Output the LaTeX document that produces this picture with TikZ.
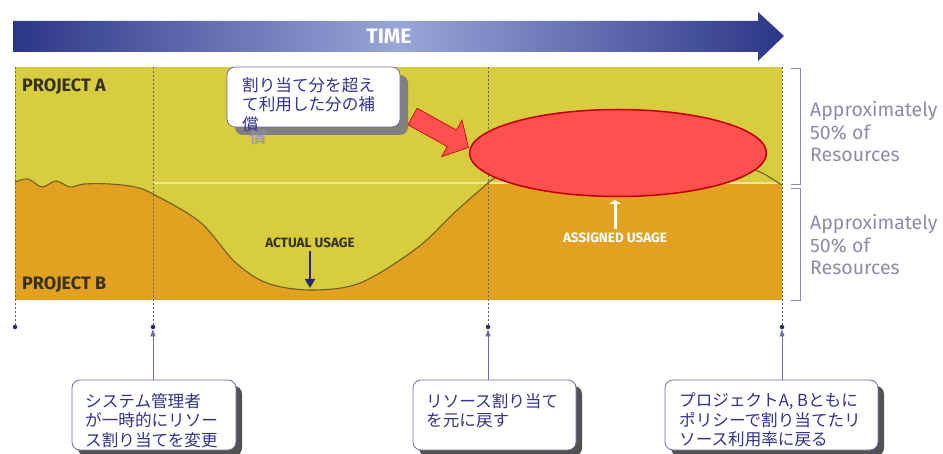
\documentclass[tikz,border=0pt]{standalone}
\usepackage{fontspec}
\setmainfont{Fira Sans}
\newfontfamily\jpfont{Noto Sans CJK JP}
\usetikzlibrary{shapes.geometric,arrows.meta,shadows}
\definecolor{chartY}{HTML}{D8CD3E}
\definecolor{chartO}{HTML}{E3A122}
\definecolor{curveC}{HTML}{6E6024}
\definecolor{paleL}{HTML}{EEE59A}
\definecolor{dotC}{HTML}{666666}
\definecolor{brkC}{HTML}{8A8AB0}
\definecolor{apprC}{HTML}{8C8CA8}
\definecolor{boxL}{HTML}{6A6AB0}
\definecolor{jpC}{HTML}{33338A}
\definecolor{jpFaint}{HTML}{8E8EC2}
\definecolor{timeD}{HTML}{2C3688}
\definecolor{timeL}{HTML}{98A6D8}
\definecolor{redF}{HTML}{FF5050}
\definecolor{redD}{HTML}{C00000}
\definecolor{navyA}{HTML}{2A2A6A}
\definecolor{ptrC}{HTML}{6E6EA8}
\definecolor{projC}{HTML}{36311F}
\newcommand\usagecurve{plot[smooth, tension=0.55] coordinates {(15,182) (28,179) (42,187) (56,181) (70,187) (84,184) (110,184) (135,187) (153,194) (200,222) (235,262) (267,283) (310,290) (360,283) (417,248) (455,212) (488,183)}}
\begin{document}
\begin{tikzpicture}[x=1pt,y=-1pt,
  dotline/.style={dotC, line width=0.8pt, dash pattern=on 2pt off 2pt},
  enddot/.style={circle, fill=navyA, inner sep=0pt, minimum size=4.5pt},
  calloutbox/.style={draw=boxL, fill=white, line width=0.8pt, rounded corners=8pt, inner sep=0pt},
  lowshadow/.style={copy shadow={shadow xshift=6pt, shadow yshift=-6pt, fill=black!68, draw=none}},
  topshadow/.style={copy shadow={shadow xshift=8pt, shadow yshift=-8pt, fill=black!50, draw=none}},
  jptext/.style={anchor=north west, inner sep=0pt, align=left, text=jpC, font=\jpfont\fontsize{16.6}{19.5}\selectfont},
  ptr/.style={ptrC, line width=0.8pt, -{Triangle[length=7pt,width=5pt]}},
  apprtext/.style={anchor=north west, inner sep=0pt, align=left, text=apprC, font=\fontsize{19.5}{22.5}\selectfont},
  projtext/.style={anchor=west, inner sep=0pt, text=projC, font=\bfseries\fontsize{18}{20}\selectfont},
  usagetext/.style={inner sep=0pt, font=\bfseries\fontsize{13.5}{15}\selectfont},
]
\useasboundingbox (0,0) rectangle (943,454);
% time arrow
\shade[left color=timeD, right color=timeD, middle color=timeL]
  (13,21) -- (758,21) -- (758,12) -- (784,36) -- (758,61) -- (758,52) -- (13,52) -- cycle;
\node[text=white, font=\bfseries\fontsize{21}{22}\selectfont] (time) at (389,36) {TIME};
% chart background
\fill[chartY] (15,67) rectangle (782,300);
\fill[chartO] \usagecurve -- (782,183) -- (782,300) -- (15,300) -- cycle;
\draw[paleL, line width=1.4pt] (153,183) -- (782,183);
\draw[curveC, line width=1.1pt] \usagecurve;
\draw[curveC, line width=1.1pt] (488,183) .. controls (500,172) and (515,168) .. (540,168) -- (745,168) .. controls (760,169) and (770,178) .. (782,185);
% dotted verticals and end dots
\node[enddot] (d1) at (15,327) {};
\node[enddot] (d2) at (153,327) {};
\node[enddot] (d3) at (488,327) {};
\node[enddot] (d4) at (782,327) {};
\draw[dotline] (15,67) -- (d1);
\draw[dotline] (153,67) -- (d2);
\draw[dotline] (488,67) -- (d3);
\draw[dotline] (782,67) -- (d4);
% labels in chart
\node[projtext] (pa) at (22,86.5) {PROJECT A};
\node[projtext] (pb) at (22,284.5) {PROJECT B};
\node[usagetext, text=projC] (au) at (310,242.5) {ACTUAL USAGE};
\draw[navyA, line width=2.6pt, -{Triangle[length=9pt,width=10pt]}] ([yshift=-3pt]au.south) -- (310,288);
\node[usagetext, text=white] (asg) at (615,237.5) {ASSIGNED USAGE};
\draw[white, line width=3pt, -{Triangle[length=4pt,width=12pt]}] ([yshift=3pt]asg.north) -- (615,200);
% brackets
\draw[brkC, line width=0.9pt] (791,68) -- (800,68) -- (800,184) -- (791,184);
\draw[brkC, line width=0.9pt] (791,188) -- (800,188) -- (800,300) -- (791,300);
\node[apprtext] (ap1) at (810,101.5) {Approximately\\50\% of\\Resources};
\node[apprtext] (ap2) at (810,214.5) {Approximately\\50\% of\\Resources};
% red ellipse and arrow
\node[ellipse, fill=redF, draw=redD, line width=1.5pt, minimum width=297pt, minimum height=87pt, inner sep=0pt] (ell) at (618,153) {};
\filldraw[fill=redF, draw=redD, line width=0.6pt, shift={(412.5,116.5)}, rotate=-29]
  (0,-9.5) -- (45,-9.5) -- (45,-21) -- (64,0) -- (45,21) -- (45,9.5) -- (0,9.5) -- cycle;
% top callout
\node[calloutbox, topshadow, minimum width=173pt, minimum height=60pt] (ctop) at (313.5,97) {};
\node[text=jpFaint, inner sep=0pt, font=\jpfont\fontsize{16.6}{19.5}\selectfont] (faint) at (258,137) {償};
\node[jptext] (ttop) at (242,77) {割り当て分を超え\\て利用した分の補\\償};
% bottom callouts
\node[calloutbox, lowshadow, minimum width=164pt, minimum height=70pt] (cb1) at (154,415) {};
\node[calloutbox, lowshadow, minimum width=163pt, minimum height=70pt] (cb2) at (494.5,415) {};
\node[calloutbox, lowshadow, minimum width=213pt, minimum height=70pt] (cb3) at (771.5,415) {};
\node[jptext] (t1) at (85,393) {システム管理者\\が一時的にリソー\\ス割り当てを変更};
\node[jptext] (t2) at (426,393) {リソース割り当て\\を元に戻す};
\node[jptext] (t3) at (679,393) {プロジェクトA, Bともに\\ポリシーで割り当てたリ\\ソース利用率に戻る};
\draw[ptr] (d2 |- cb1.north) -- (d2.south);
\draw[ptr] (d3 |- cb2.north) -- (d3.south);
\draw[ptr] (d4 |- cb3.north) -- (d4.south);
\end{tikzpicture}
\end{document}
